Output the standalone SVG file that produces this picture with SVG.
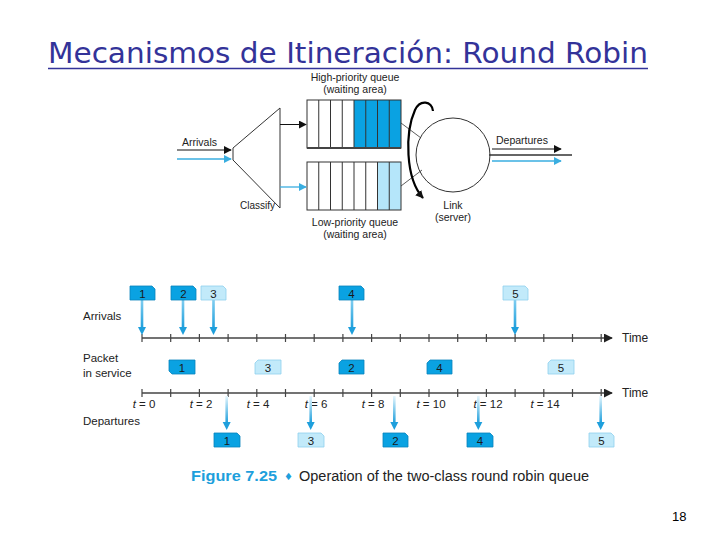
<svg xmlns="http://www.w3.org/2000/svg" width="720" height="540" viewBox="0 0 720 540">
<style>
.fig{font-family:"Liberation Sans","DejaVu Sans",sans-serif;fill:#222}
.s10{font-size:10.5px}
.s11{font-size:11.5px}
.num{font-family:"Liberation Sans",sans-serif;font-size:11.5px;fill:#1a1a1a;text-anchor:middle}
.dk{fill:#0aa2e2;stroke:#0784bd;stroke-width:0.8}
.lt{fill:#c2eafa;stroke:#8fd0ee;stroke-width:0.8}
.ax{stroke:#444;stroke-width:1.5;fill:none}
.tk{stroke:#444;stroke-width:1.2}
.ln{stroke:#333;stroke-width:1;fill:none}
.mid{text-anchor:middle}
.ah{fill:#1e9fdc}
</style>
<defs>
<linearGradient id="gA" x1="0" y1="0" x2="0" y2="1"><stop offset="0" stop-color="#7fcdf0"/><stop offset="1" stop-color="#1e9fdc"/></linearGradient>
<linearGradient id="gD" x1="0" y1="0" x2="0" y2="1"><stop offset="0" stop-color="#e6f6fd"/><stop offset="1" stop-color="#1e9fdc"/></linearGradient>
<marker id="mk" viewBox="0 0 10 10" refX="9" refY="5" markerWidth="8" markerHeight="8" markerUnits="userSpaceOnUse" orient="auto"><path d="M0,0 L10,5 L0,10 z" fill="#111"/></marker>
<marker id="mb" viewBox="0 0 10 10" refX="9" refY="5" markerWidth="8" markerHeight="8" markerUnits="userSpaceOnUse" orient="auto"><path d="M0,0 L10,5 L0,10 z" fill="#3aaee0"/></marker>
<marker id="mt" viewBox="0 0 10 10" refX="9" refY="5" markerWidth="9" markerHeight="9" markerUnits="userSpaceOnUse" orient="auto"><path d="M0,0 L10,5 L0,10 z" fill="#222"/></marker>
</defs>
<rect width="720" height="540" fill="#fff"/>

<g id="title">
<text x="48" y="63" font-family="'DejaVu Sans',sans-serif" font-size="28" fill="#333399" textLength="600" lengthAdjust="spacingAndGlyphs">Mecanismos de Itineración: Round Robin</text>
<line x1="48" y1="68.5" x2="648" y2="68.5" stroke="#333399" stroke-width="1.5"/>
</g>

<g id="high-queue">
<rect x="354" y="100" width="47" height="48" fill="#0aa2e2"/>
<rect x="307" y="100" width="94" height="48" class="ln" stroke="#444"/>
<path class="ln" d="M318.75,100V148M330.5,100V148M342.25,100V148M354,100V148M365.75,100V148M377.5,100V148M389.25,100V148"/>
<line x1="307" y1="148" x2="401" y2="148" stroke="#444" stroke-width="1.8"/>
<text class="fig s10 mid" x="355" y="80.5">High-priority queue</text>
<text class="fig s10 mid" x="355" y="92.5">(waiting area)</text>
</g>

<g id="low-queue">
<rect x="377.5" y="162" width="23.5" height="48" fill="#b5e6fa"/>
<rect x="307" y="162" width="94" height="48" class="ln" stroke="#444"/>
<path class="ln" d="M318.75,162V210M330.5,162V210M342.25,162V210M354,162V210M365.75,162V210M377.5,162V210M389.25,162V210"/>
<text class="fig s10 mid" x="355" y="226">Low-priority queue</text>
<text class="fig s10 mid" x="355" y="238">(waiting area)</text>
</g>

<g id="classifier">
<polygon points="280,108 233,148 233,160 280,208" fill="none" stroke="#333" stroke-width="1"/>
<text class="fig" font-size="10" x="240" y="209">Classify</text>
</g>

<g id="server">
<circle cx="453" cy="155" r="37" fill="none" stroke="#333" stroke-width="1"/>
<text class="fig s10 mid" x="453" y="209">Link</text>
<text class="fig s10 mid" x="453" y="221">(server)</text>
</g>

<g id="connectors">
<line x1="177" y1="150" x2="231" y2="150" stroke="#111" stroke-width="1" marker-end="url(#mk)"/>
<line x1="177" y1="159" x2="231" y2="159" stroke="#3aaee0" stroke-width="1.3" marker-end="url(#mb)"/>
<text class="fig s10" x="182" y="145.5">Arrivals</text>
<line x1="280" y1="124.5" x2="306" y2="124.5" stroke="#111" stroke-width="1" marker-end="url(#mk)"/>
<line x1="280" y1="187" x2="306" y2="187" stroke="#3aaee0" stroke-width="1.3" marker-end="url(#mb)"/>
<line x1="401" y1="123" x2="421" y2="138" stroke="#333" stroke-width="0.8"/>
<line x1="401" y1="186" x2="422" y2="170" stroke="#333" stroke-width="0.8"/>
<path d="M433,111 C432,101 420,99 415,110 C405,132 405,178 423,198" fill="none" stroke="#000" stroke-width="2.2" marker-end="url(#mk)"/>
<line x1="492" y1="149" x2="561" y2="149" stroke="#111" stroke-width="1" marker-end="url(#mk)"/>
<line x1="489" y1="155" x2="572" y2="155" stroke="#333" stroke-width="1.5"/>
<line x1="492" y1="161" x2="561" y2="161" stroke="#3aaee0" stroke-width="1.3" marker-end="url(#mb)"/>
<text class="fig s10" x="496" y="144">Departures</text>
</g>

<g id="timeline-labels">
<text class="fig s11" x="83" y="320">Arrivals</text>
<text class="fig s11" x="83" y="362">Packet</text>
<text class="fig s11" x="83" y="376.5">in service</text>
<text class="fig s11" x="83" y="425">Departures</text>
</g>

<g id="axes">
<line class="ax" x1="142" y1="338" x2="612" y2="338" marker-end="url(#mt)"/>
<line class="ax" x1="142" y1="393" x2="612" y2="393" marker-end="url(#mt)"/>
<path class="tk" d="M142,334V342M170.7,334V342M199.4,334V342M228.1,334V342M256.8,334V342M285.5,334V342M314.2,334V342M342.9,334V342M371.6,334V342M400.3,334V342M429,334V342M457.7,334V342M486.4,334V342M515.1,334V342M543.8,334V342M572.5,334V342M601.2,334V342"/>
<path class="tk" d="M142,389V397M170.7,389V397M199.4,389V397M228.1,389V397M256.8,389V397M285.5,389V397M314.2,389V397M342.9,389V397M371.6,389V397M400.3,389V397M429,389V397M457.7,389V397M486.4,389V397M515.1,389V397M543.8,389V397M572.5,389V397M601.2,389V397"/>
<text class="fig" font-size="12" x="622" y="342">Time</text>
<text class="fig" font-size="12" x="622" y="397">Time</text>
<g class="fig s11 mid">
<text x="144" y="408"><tspan font-style="italic">t</tspan> = 0</text>
<text x="201" y="408"><tspan font-style="italic">t</tspan> = 2</text>
<text x="258" y="408"><tspan font-style="italic">t</tspan> = 4</text>
<text x="316" y="408"><tspan font-style="italic">t</tspan> = 6</text>
<text x="373" y="408"><tspan font-style="italic">t</tspan> = 8</text>
<text x="431" y="408"><tspan font-style="italic">t</tspan> = 10</text>
<text x="488" y="408"><tspan font-style="italic">t</tspan> = 12</text>
<text x="545" y="408"><tspan font-style="italic">t</tspan> = 14</text>
</g>
</g>

<g id="arrival-arrows">
<rect x="140.7" y="300" width="2.6" height="28" fill="url(#gA)"/><polygon class="ah" points="138,327 146,327 142,335"/>
<rect x="181.7" y="300" width="2.6" height="28" fill="url(#gA)"/><polygon class="ah" points="179,327 187,327 183,335"/>
<rect x="212.2" y="300" width="2.6" height="28" fill="url(#gA)"/><polygon class="ah" points="209.5,327 217.5,327 213.5,335"/>
<rect x="350.7" y="300" width="2.6" height="28" fill="url(#gA)"/><polygon class="ah" points="348,327 356,327 352,335"/>
<rect x="513.7" y="300" width="2.6" height="28" fill="url(#gA)"/><polygon class="ah" points="511,327 519,327 515,335"/>
</g>

<g id="departure-arrows">
<rect x="225.4" y="396" width="2.6" height="27" fill="url(#gD)"/><polygon class="ah" points="222.7,422 230.7,422 226.7,430"/>
<rect x="309.4" y="396" width="2.6" height="27" fill="url(#gD)"/><polygon class="ah" points="306.7,422 314.7,422 310.7,430"/>
<rect x="393" y="396" width="2.6" height="27" fill="url(#gD)"/><polygon class="ah" points="390.3,422 398.3,422 394.3,430"/>
<rect x="477" y="396" width="2.6" height="27" fill="url(#gD)"/><polygon class="ah" points="474.3,422 482.3,422 478.3,430"/>
<rect x="599.4" y="396" width="2.6" height="27" fill="url(#gD)"/><polygon class="ah" points="596.7,422 604.7,422 600.7,430"/>
</g>

<g id="arrival-packets">
<g id="arr-1"><path class="dk" d="M130,286H152L155,289V300H130Z"/><text class="num" x="142.5" y="297.5">1</text></g>
<g id="arr-2"><path class="dk" d="M171,286H193L196,289V300H171Z"/><text class="num" x="183.5" y="297.5">2</text></g>
<g id="arr-3"><path class="lt" d="M201,286H223L226,289V300H201Z"/><text class="num" x="213.5" y="297.5">3</text></g>
<g id="arr-4"><path class="dk" d="M339,286H361L364,289V300H339Z"/><text class="num" x="351.5" y="297.5">4</text></g>
<g id="arr-5"><path class="lt" d="M503,286H525L528,289V300H503Z"/><text class="num" x="515.5" y="297.5">5</text></g>
</g>

<g id="service-packets">
<g id="srv-1"><path class="dk" d="M169,360H195V374H172L169,371Z"/><text class="num" x="182" y="371.5">1</text></g>
<g id="srv-3"><path class="lt" d="M258,360H281V374H255V363Z"/><text class="num" x="268" y="371.5">3</text></g>
<g id="srv-2"><path class="dk" d="M342,360H364V374H339V363Z"/><text class="num" x="351.5" y="371.5">2</text></g>
<g id="srv-4"><path class="dk" d="M430,360H452V374H427V363Z"/><text class="num" x="439.5" y="371.5">4</text></g>
<g id="srv-5"><path class="lt" d="M551,360H574V374H548V363Z"/><text class="num" x="561" y="371.5">5</text></g>
</g>

<g id="departure-packets">
<g id="dep-1"><path class="dk" d="M214,433H237L240,436V447H214Z"/><text class="num" x="227" y="444.5">1</text></g>
<g id="dep-3"><path class="lt" d="M298,433H321L324,436V447H298Z"/><text class="num" x="311" y="444.5">3</text></g>
<g id="dep-2"><path class="dk" d="M383,433H405L408,436V447H383Z"/><text class="num" x="395.5" y="444.5">2</text></g>
<g id="dep-4"><path class="dk" d="M467,433H490L493,436V447H467Z"/><text class="num" x="480" y="444.5">4</text></g>
<g id="dep-5"><path class="lt" d="M589,433H611L614,436V447H589Z"/><text class="num" x="601.5" y="444.5">5</text></g>
</g>

<g id="caption">
<text x="191" y="481" font-family="'Liberation Sans',sans-serif" font-size="14.5" font-weight="bold" fill="#1e9fdc" textLength="86" lengthAdjust="spacingAndGlyphs">Figure 7.25</text>
<text x="284" y="480" font-family="'DejaVu Sans',sans-serif" font-size="10" fill="#1e9fdc">♦</text>
<text x="299" y="481" font-family="'Liberation Sans',sans-serif" font-size="14" fill="#222" textLength="290" lengthAdjust="spacingAndGlyphs">Operation of the two-class round robin queue</text>
</g>

<g id="page-number">
<text x="672" y="521" font-family="'Liberation Sans',sans-serif" font-size="13" fill="#000">18</text>
</g>
</svg>
